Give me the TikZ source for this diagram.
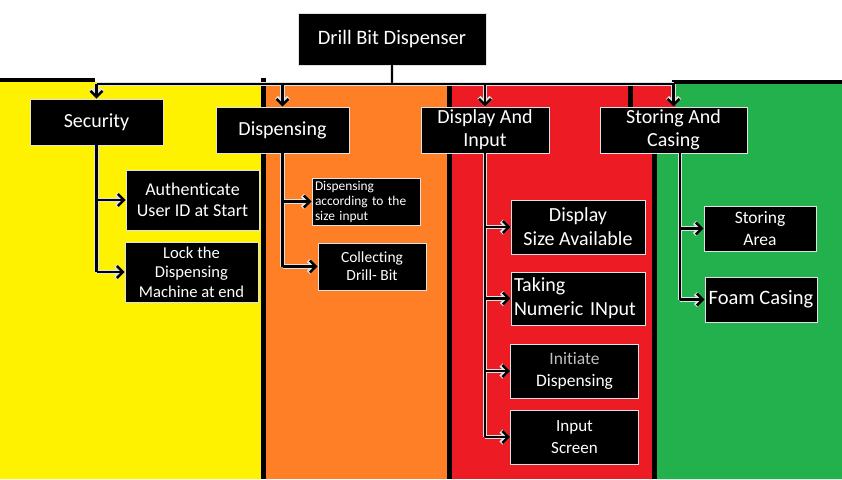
\documentclass[tikz,border=0pt]{standalone}
\usepackage{fontspec}
\setmainfont{Carlito}[Ligatures=NoCommon]
\usetikzlibrary{arrows.meta}
\definecolor{paintyellow}{RGB}{255,242,0}
\definecolor{paintorange}{RGB}{255,127,39}
\definecolor{paintred}{RGB}{237,28,36}
\definecolor{paintgreen}{RGB}{34,177,76}
\definecolor{halo}{RGB}{225,225,225}
\newcommand{\fsz}[2]{\fontsize{#1}{#2}\selectfont}

\begin{document}
\begin{tikzpicture}[x=1pt,y=-1pt,
	box/.style={draw=halo, line width=0.8pt, fill=black, text=white, align=center, inner sep=1pt},
	arr/.style={-{Straight Barb[length=6pt,width=12pt]}}]
	\useasboundingbox (0,0) rectangle (842,479);
	\fill[white] (0,0) rectangle (842,479);
	\fill[paintyellow] (0,82) rectangle (263,479);
	\fill[paintorange] (263,84) rectangle (449,479);
	\fill[paintred] (449,84) rectangle (676,479);
	\fill[paintgreen] (676,84) -- (842,84) -- (842,479) -- (656,479) -- (656,107) -- (676,107) -- cycle;
	\draw[line width=4pt] (0,80) -- (95,80);
	\draw[line width=4pt] (672,82) -- (842,82);
	\draw[line width=5pt] (263,78) -- (263,479);
	\draw[line width=5pt] (449,84) -- (449,479);
	\draw[line width=5pt] (630,84) -- (630,107);
	\draw[line width=5pt] (654,153) -- (654,479);

	\node[box, minimum width=188pt, minimum height=52pt, font=\fsz{20.5}{24}] (root) at (392,39) {Drill Bit Dispenser};

	\node[box, minimum width=133pt, minimum height=46pt, font=\fsz{20}{24}] (sec) at (96.5,122) {Security};
	\node[box, minimum width=133pt, minimum height=46pt, font=\fsz{20}{24}] (disp) at (282.5,130) {Dispensing};
	\node[box, minimum width=128pt, minimum height=46pt, font=\fsz{20}{23}] (dai) at (485,130) {Display And\\Input};
	\node[box, minimum width=147pt, minimum height=46pt, font=\fsz{20}{23}] (sto) at (673.5,130) {Storing And\\Casing};

	\node[box, minimum width=133pt, minimum height=60pt, font=\fsz{18}{21}] (auth) at (192.5,200) {Authenticate\\User ID at Start};
	\node[box, minimum width=133pt, minimum height=60pt, font=\fsz{16.6}{19.5}] (lock) at (191.5,272) {Lock the\\Dispensing\\Machine at end};

	\node[box, minimum width=108pt, minimum height=47pt, text width=102pt, align=left, font=\fsz{13.4}{15}] (sizein) at (366,201.5) {Dispensing\\according to the\\size input};
	\node[box, minimum width=108pt, minimum height=47pt, font=\fsz{15.5}{18}] (coll) at (372,266.5) {Collecting\\Drill- Bit};

	\node[box, minimum width=134pt, minimum height=54pt, font=\fsz{20}{24}] (dsa) at (578,227) {Display\\Size Available};
	\node[box, minimum width=134pt, minimum height=53pt, text width=128pt, align=left, font=\fsz{20}{24}] (tni) at (578,298.5) {Taking\\Numeric INput};
	\node[box, minimum width=128pt, minimum height=54pt, font=\fsz{17.5}{22}] (ini) at (574.5,371) {{\color{white!75!black}Initiate}\\Dispensing};
	\node[box, minimum width=128pt, minimum height=54pt, font=\fsz{17}{22}] (ins) at (574.5,437) {Input\\Screen};

	\node[box, minimum width=112pt, minimum height=45pt, font=\fsz{17.5}{22}] (sar) at (760,228.5) {Storing\\Area};
	\node[box, minimum width=112pt, minimum height=45pt, font=\fsz{20.5}{24}] (foam) at (761,299.5) {Foam Casing};

	\coordinate (bus) at (0,84);
	\coordinate (stotrunk) at ([xshift=6.5pt]sto.south);

	\foreach \lw/\col in {4.4pt/halo, 2.4pt/black} {
		\begin{scope}[line width=\lw, draw=\col]
			\draw (root.south) -- (root.south |- bus);
			\draw (sec.north |- bus) -- (sto.north |- bus);
			\draw[arr] (sec.north |- bus) -- (sec.north);
			\draw[arr] (disp.north |- bus) -- (disp.north);
			\draw[arr] (dai.north |- bus) -- (dai.north);
			\draw[arr] (sto.north |- bus) -- (sto.north);

			\draw (sec.south) -- (sec.south |- lock.west);
			\draw[arr] (sec.south |- auth.west) -- (auth.west);
			\draw[arr] (sec.south |- lock.west) -- (lock.west);

			\draw (disp.south) -- (disp.south |- coll.west);
			\draw[arr] (disp.south |- sizein.west) -- (sizein.west);
			\draw[arr] (disp.south |- coll.west) -- (coll.west);

			\draw (dai.south) -- (dai.south |- ins.west);
			\draw[arr] (dai.south |- dsa.west) -- (dsa.west);
			\draw[arr] (dai.south |- tni.west) -- (tni.west);
			\draw[arr] (dai.south |- ini.west) -- (ini.west);
			\draw[arr] (dai.south |- ins.west) -- (ins.west);

			\draw (stotrunk) -- (stotrunk |- foam.west);
			\draw[arr] (stotrunk |- sar.west) -- (sar.west);
			\draw[arr] (stotrunk |- foam.west) -- (foam.west);
		\end{scope}
	}
\end{tikzpicture}
\end{document}
